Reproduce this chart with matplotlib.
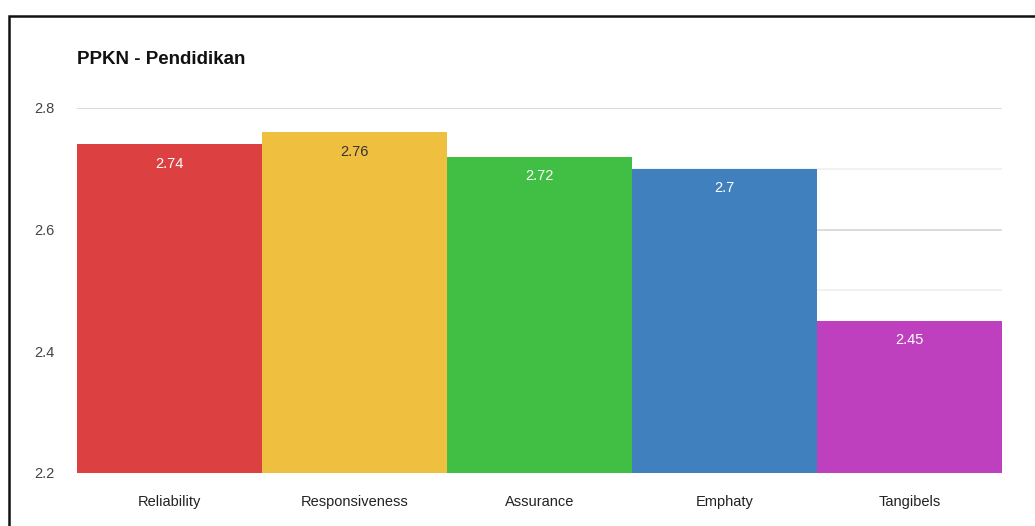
import matplotlib
matplotlib.use("Agg")
import matplotlib.pyplot as plt
from matplotlib.patches import Rectangle

categories = ["Reliability", "Responsiveness", "Assurance", "Emphaty", "Tangibels"]
values = [2.74, 2.76, 2.72, 2.7, 2.45]
value_labels = ["2.74", "2.76", "2.72", "2.7", "2.45"]
colors = ["#dc4040", "#efbf40", "#40bf44", "#4080bf", "#bf40bf"]
label_colors = ["white", "#333333", "white", "white", "white"]

plt.rcParams["font.family"] = ["Liberation Sans", "DejaVu Sans"]

fig = plt.figure(figsize=(10.35, 5.26), dpi=100)
ax = fig.add_axes([77 / 1035, 1 - 473 / 526, 925 / 1035, 365 / 526])

x = list(range(len(categories)))
ax.bar(x, [v - 2.2 for v in values], bottom=2.2, width=1.0, color=colors,
       linewidth=0, zorder=2)
ax.set_xlim(-0.5, len(categories) - 0.5)
ax.set_ylim(2.2, 2.8)

# gridlines: major + lighter minor
for yv in [2.2, 2.4, 2.6, 2.8]:
    ax.axhline(yv, color="#d6d6d6", linewidth=1.2, zorder=1)
for yv in [2.3, 2.5, 2.7]:
    ax.axhline(yv, color="#efefef", linewidth=1.2, zorder=1)

for i, (v, t) in enumerate(zip(values, value_labels)):
    ax.text(i, v - 0.02, t, ha="center", va="top", fontsize=10.5,
            color=label_colors[i], zorder=3)

ax.set_yticks([2.2, 2.4, 2.6, 2.8])
ax.set_yticklabels(["2.2", "2.4", "2.6", "2.8"], color="#444444", fontsize=10.5)
ax.set_xticks(x)
ax.set_xticklabels(categories, color="#222222", fontsize=10.5)
ax.tick_params(axis="y", length=0, pad=16)
ax.tick_params(axis="x", length=0, pad=16)
for s in ax.spines.values():
    s.set_visible(False)

fig.text(77 / 1035, 1 - 60 / 526, "PPKN - Pendidikan", fontsize=13.5,
         fontweight="bold", color="#111111", va="center", ha="left")

# screenshot frame
fig.patches.append(Rectangle((9 / 1035, -0.1), 1.2, 1 - 15.5 / 526 + 0.1,
                             transform=fig.transFigure, fill=False,
                             edgecolor="#111111", linewidth=1.8))

fig.savefig("out.png", dpi=100)
